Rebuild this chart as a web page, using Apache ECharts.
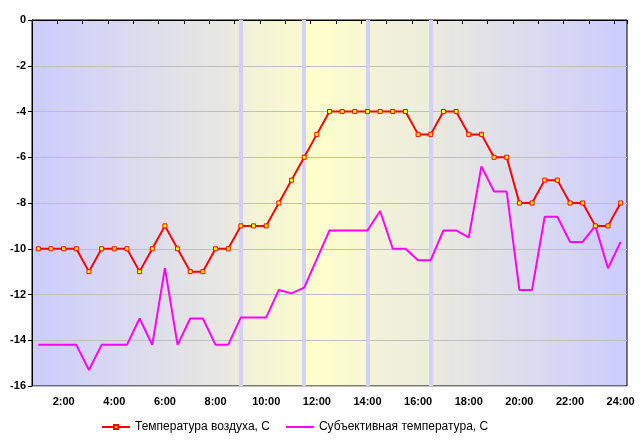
<!DOCTYPE html>
<html>
<head>
<meta charset="utf-8">
<script src="https://cdn.jsdelivr.net/npm/echarts@6/dist/echarts.min.js"></script>
<style>html,body{margin:0;padding:0;background:#fff;}#c{width:640px;height:444px;}</style>
</head>
<body>
<div id="c"></div>
<script>
var categories = ["1:00","1:30","2:00","2:30","3:00","3:30","4:00","4:30","5:00","5:30","6:00","6:30","7:00","7:30","8:00","8:30","9:00","9:30","10:00","10:30","11:00","11:30","12:00","12:30","13:00","13:30","14:00","14:30","15:00","15:30","16:00","16:30","17:00","17:30","18:00","18:30","19:00","19:30","20:00","20:30","21:00","21:30","22:00","22:30","23:00","23:30","24:00"];
var airTemp = [-10,-10,-10,-10,-11,-10,-10,-10,-11,-10,-9,-10,-11,-11,-10,-10,-9,-9,-9,-8,-7,-6,-5,-4,-4,-4,-4,-4,-4,-4,-5,-5,-4,-4,-5,-5,-6,-6,-8,-8,-7,-7,-8,-8,-9,-9,-8];
var feelTemp = [-14.2,-14.2,-14.2,-14.2,-15.3,-14.2,-14.2,-14.2,-13.05,-14.2,-10.85,-14.2,-13.05,-13.05,-14.2,-14.2,-13,-13,-13,-11.8,-11.95,-11.7,-10.45,-9.2,-9.2,-9.2,-9.2,-8.35,-10,-10,-10.5,-10.5,-9.2,-9.2,-9.5,-6.4,-7.5,-7.5,-11.8,-11.8,-8.6,-8.6,-9.7,-9.7,-9,-10.85,-9.7];
var bandTimes = ["9:00","11:30","14:00","16:30"];
var seriesNames = ["Температура воздуха, С","Субъективная температура, С"];

var chart = echarts.init(document.getElementById('c'));
var font = '"Liberation Sans", Arial, sans-serif';
var bg = new echarts.graphic.LinearGradient(0,0,1,0,[
  {offset:0, color:'#CCCCFF'},
  {offset:0.348, color:'#EAEADE'},
  {offset:0.352, color:'#F1F1D8'},
  {offset:0.454, color:'#FAFAD0'},
  {offset:0.458, color:'#FFFFCC'},
  {offset:0.560, color:'#F8F8D2'},
  {offset:0.565, color:'#F3F3D8'},
  {offset:0.667, color:'#EDEDDC'},
  {offset:0.671, color:'#EAEADE'},
  {offset:1, color:'#CCCCFF'}
]);
chart.setOption({
  animation:false,
  grid:{left:32, right:13, top:20, bottom:58, show:true, backgroundColor:bg, borderColor:'#000', borderWidth:1},
  legend:{
    data:seriesNames, top:416, left:96, itemGap:15, itemWidth:28, itemHeight:5,
    textStyle:{fontFamily:font, fontSize:12, color:'#000'}
  },
  xAxis:{
    type:'category', data:categories, boundaryGap:true,
    axisLine:{lineStyle:{color:'#000', width:1}},
    axisTick:{show:true, interval:function(i){return i%2===0;}, length:4, lineStyle:{color:'#000'}},
    axisLabel:{interval:function(i){return i%4===2;}, fontFamily:font, fontSize:11, fontWeight:'bold', color:'#000', margin:10},
    splitLine:{show:false}
  },
  yAxis:{
    type:'value', min:-16, max:0, interval:2,
    axisLine:{show:true, lineStyle:{color:'#000', width:1}},
    axisTick:{show:true, length:4, lineStyle:{color:'#000'}},
    axisLabel:{fontFamily:font, fontSize:11, fontWeight:'bold', color:'#000', margin:6},
    splitLine:{show:true, lineStyle:{color:'#BFBFBF', width:1}}
  },
  series:[
    {
      name:'bands', type:'line', data:[], silent:true, z:1,
      markLine:{silent:true, z:1, symbol:['none','none'], label:{show:false},
        lineStyle:{color:'#D2D2F8', width:4, type:'solid'},
        emphasis:{disabled:true},
        data:bandTimes.map(function(t){return {xAxis:t};})}
    },
    {
      name:seriesNames[1], type:'line', data:feelTemp, z:3,
      showSymbol:false, symbol:'line',
      lineStyle:{color:'#FF00FF', width:2}, itemStyle:{color:'#FF00FF'}
    },
    {
      name:seriesNames[0], type:'line', data:airTemp, z:4,
      symbol:'rect', symbolSize:4, showSymbol:true,
      lineStyle:{color:'#FF0000', width:2},
      itemStyle:{color:'#FFFF00', borderColor:'#FF0000', borderWidth:1}
    }
  ]
});
</script>
</body>
</html>
